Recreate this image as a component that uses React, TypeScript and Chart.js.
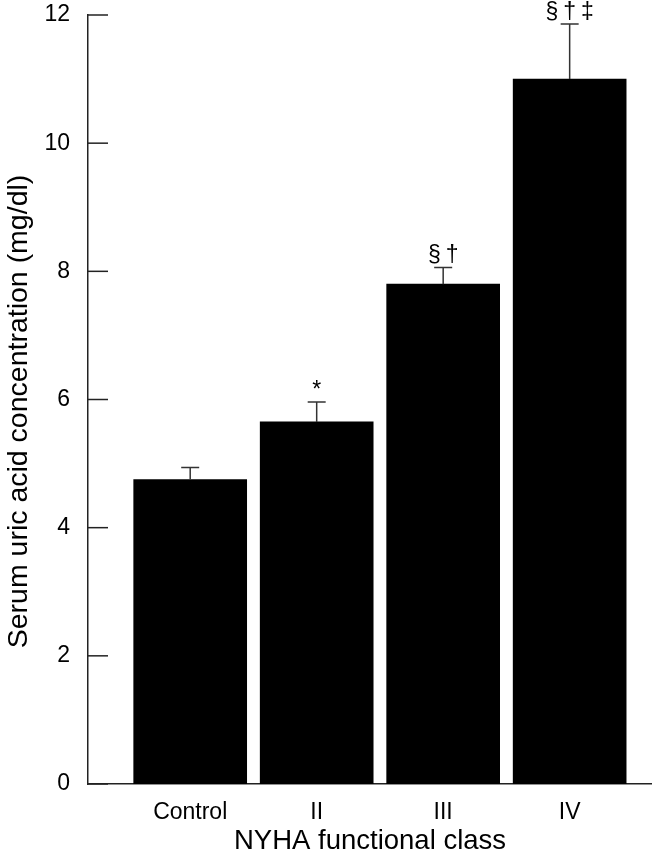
import React, { useEffect, useRef } from 'react';
import { Chart, registerables } from 'chart.js';

Chart.register(...registerables);

// ---- data ----
const categories = ['Control', 'II', 'III', 'IV'];
const meanValues = [4.75, 5.65, 7.8, 11.0];
const errorValues = [0.19, 0.31, 0.26, 0.86];
const significance = ['', '*', '§†', '§†‡'];
const yMin = 0;
const yMax = 12;
const yStep = 2;
const xTitle = 'NYHA functional class';
const yTitle = 'Serum uric acid concentration (mg/dl)';

const FONT = '"Liberation Sans", Arial, Helvetica, sans-serif';

const decorPlugin = {
  id: 'decor',
  afterDatasetsDraw(chart: any) {
    const { ctx, chartArea } = chart;
    const x = chart.scales.x;
    const y = chart.scales.y;
    ctx.save();
    // inward y ticks
    ctx.strokeStyle = '#222';
    ctx.lineWidth = 1.5;
    y.ticks.forEach((t: any) => {
      const py = y.getPixelForValue(t.value);
      ctx.beginPath();
      ctx.moveTo(chartArea.left, py);
      ctx.lineTo(chartArea.left + 20, py);
      ctx.stroke();
    });
    // error bars
    ctx.strokeStyle = '#333';
    ctx.lineWidth = 1.5;
    meanValues.forEach((v, i) => {
      const px = x.getPixelForValue(i);
      const base = y.getPixelForValue(v);
      const top = y.getPixelForValue(v + errorValues[i]);
      ctx.beginPath();
      ctx.moveTo(px, base);
      ctx.lineTo(px, top);
      ctx.moveTo(px - 9, top);
      ctx.lineTo(px + 9, top);
      ctx.stroke();
      const label = significance[i];
      if (label) {
        ctx.fillStyle = '#000';
        ctx.font = `23px ${FONT}`;
        ctx.textAlign = 'left';
        ctx.textBaseline = 'alphabetic';
        const chars = Array.from(label);
        const gap = 5;
        const widths = chars.map((c) => ctx.measureText(c).width);
        const total = widths.reduce((a, b) => a + b, 0) + gap * (chars.length - 1);
        let cx = px - total / 2;
        chars.forEach((c, k) => {
          ctx.fillText(c, cx, top - 5);
          cx += widths[k] + gap;
        });
      }
    });
    // y axis title
    ctx.fillStyle = '#000';
    ctx.font = `28.5px ${FONT}`;
    ctx.textAlign = 'center';
    ctx.textBaseline = 'middle';
    ctx.translate(19, (chartArea.top + chartArea.bottom) / 2 + 12);
    ctx.rotate(-Math.PI / 2);
    ctx.fillText(yTitle, 0, 0);
    ctx.restore();
  },
};

export default function App() {
  const ref = useRef<HTMLCanvasElement | null>(null);

  useEffect(() => {
    if (!ref.current) return;
    const chart = new Chart(ref.current, {
      type: 'bar',
      data: {
        datasets: [
          {
            data: categories.map((_, i) => ({ x: i, y: meanValues[i] })),
            backgroundColor: '#000',
            borderWidth: 0,
            barThickness: 113,
          },
        ],
      },
      options: {
        animation: false,
        responsive: false,
        layout: { padding: { top: 15, right: 0, left: 0, bottom: 0 } },
        plugins: {
          legend: { display: false },
          tooltip: { enabled: false },
        },
        scales: {
          x: {
            type: 'linear',
            offset: false,
            min: -0.808,
            max: 3.651,
            grid: { display: false },
            border: { display: true, color: '#222', width: 1.5 },
            afterBuildTicks: (s: any) => {
              s.ticks = categories.map((_, i) => ({ value: i }));
            },
            afterFit: (s: any) => {
              s.height = 68;
              s.paddingLeft = 0;
              s.paddingRight = 0;
            },
            ticks: {
              callback: (v: any) => categories[v as number] ?? '',
              font: { family: FONT, size: 23 },
              color: '#000',
              padding: 7,
              maxRotation: 0,
              autoSkip: false,
            },
            title: {
              display: true,
              text: xTitle,
              font: { family: FONT, size: 27.5, lineHeight: 0.8 },
              color: '#000',
              padding: { top: 0, bottom: 0 },
            },
          },
          y: {
            min: yMin,
            max: yMax,
            ticks: {
              stepSize: yStep,
              font: { family: FONT, size: 23 },
              color: '#000',
              padding: 10,
            },
            grid: { display: false },
            border: { display: true, color: '#222', width: 1.5 },
            afterFit: (s: any) => {
              s.width = 88;
              s.paddingTop = 0;
              s.paddingBottom = 0;
            },
            title: { display: false },
          },
        },
      } as any,
      plugins: [decorPlugin],
    });
    return () => chart.destroy();
  }, []);

  return (
    <div style={{ position: 'absolute', left: 0, top: 0, width: 652, height: 852, background: '#fff' }}>
      <canvas ref={ref} width={652} height={852} style={{ display: 'block' }} />
    </div>
  );
}
